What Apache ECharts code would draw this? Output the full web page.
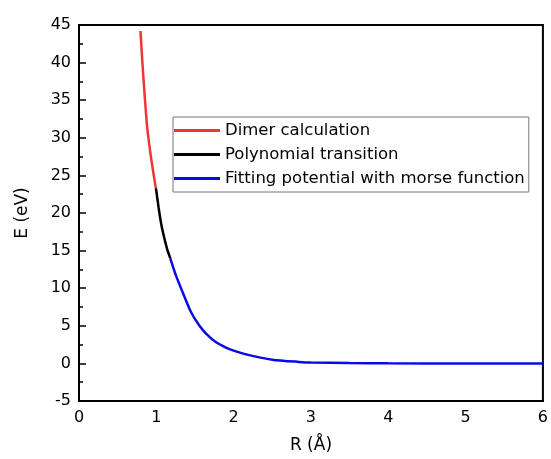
<!DOCTYPE html>
<html>
<head>
<meta charset="utf-8">
<script src="https://cdn.jsdelivr.net/npm/echarts@6/dist/echarts.min.js"></script>
<style>
  html, body { margin: 0; padding: 0; background: #fff; }
  #chart { width: 551px; height: 459px; }
</style>
</head>
<body>
<div id="chart"></div>
<script>
// Interatomic energy E(R) in three pieces: dimer calculation (short range),
// a polynomial bridge, and the Morse-function fit out to long range.
const dimerR = [0.795, 0.82, 0.85, 0.879, 0.91, 0.94, 0.97, 0.995];
const dimerE = [44.2, 40.0, 35.5, 31.7, 29.0, 26.8, 24.8, 23.3];

const polyR = [0.995, 1.03, 1.064, 1.10, 1.14, 1.18];
const polyE = [23.3, 20.7, 18.5, 16.8, 15.2, 14.0];

const morseR = [1.18, 1.25, 1.343, 1.45, 1.558, 1.65, 1.773, 1.9, 2.0, 2.2, 2.5, 2.845, 3.0, 3.5, 4.0, 5.0, 6.0];
const morseE = [14.0, 11.8, 9.4, 6.8, 5.0, 3.9, 2.8, 2.1, 1.7, 1.1, 0.5, 0.2, 0.12, 0.04, 0.01, 0.0, 0.0];

const xTicks = { min: 0, max: 6, step: 1 };
const yTicks = { min: -5, max: 45, step: 5 };

const seriesNames = ['Dimer calculation', 'Polynomial transition', 'Fitting potential with morse function'];
const seriesColors = ['#f03535', '#000000', '#0a0ae8'];

const pairs = (xs, ys) => xs.map((x, i) => [x, ys[i]]);
const segments = [pairs(dimerR, dimerE), pairs(polyR, polyE), pairs(morseR, morseE)];

const font = 'DejaVu Sans, sans-serif';
const chart = echarts.init(document.getElementById('chart'), null, { renderer: 'canvas' });

chart.setOption({
  animation: false,
  backgroundColor: '#ffffff',
  grid: {
    left: 79, right: 6, top: 25, bottom: 57,
    show: true, borderColor: '#000', borderWidth: 2, backgroundColor: 'transparent'
  },
  legend: {
    orient: 'vertical',
    left: 173, top: 117,
    padding: [5, 4, 5, 1],
    itemGap: 7,
    itemWidth: 46, itemHeight: 3,
    icon: 'rect',
    borderColor: '#777', borderWidth: 1,
    textStyle: { fontFamily: font, fontSize: 16.5, color: '#000' },
    data: seriesNames.map((n, i) => ({ name: n, itemStyle: { color: seriesColors[i] } }))
  },
  xAxis: {
    type: 'value',
    min: xTicks.min, max: xTicks.max, interval: xTicks.step,
    name: 'R (Å)', nameLocation: 'middle', nameGap: 36,
    nameTextStyle: { fontFamily: font, fontSize: 17, color: '#000' },
    axisLine: { show: true, onZero: false, lineStyle: { color: '#000', width: 2 } },
    axisTick: { show: false },
    splitLine: { show: false },
    axisLabel: { fontFamily: font, fontSize: 16, color: '#000', margin: 9 }
  },
  yAxis: {
    type: 'value',
    min: yTicks.min, max: yTicks.max, interval: yTicks.step,
    name: 'E (eV)', nameLocation: 'middle', nameGap: 48, nameRotate: 90,
    nameTextStyle: { fontFamily: font, fontSize: 17, color: '#000' },
    axisLine: { show: true, onZero: false, lineStyle: { color: '#000', width: 2 } },
    axisTick: { show: true, inside: true, length: 7, lineStyle: { color: '#000', width: 1.5 } },
    minorTick: { show: true, splitNumber: 2, length: 4, lineStyle: { color: '#000', width: 1.5 } },
    splitLine: { show: false },
    axisLabel: { fontFamily: font, fontSize: 16, color: '#000', margin: 8 }
  },
  series: segments.map((d, i) => ({
    name: seriesNames[i],
    type: 'line',
    data: d,
    smooth: 0.25,
    showSymbol: false,
    lineStyle: { color: seriesColors[i], width: 2.5 },
    itemStyle: { color: seriesColors[i] },
    z: 3 - i
  }))
});
</script>
</body>
</html>
